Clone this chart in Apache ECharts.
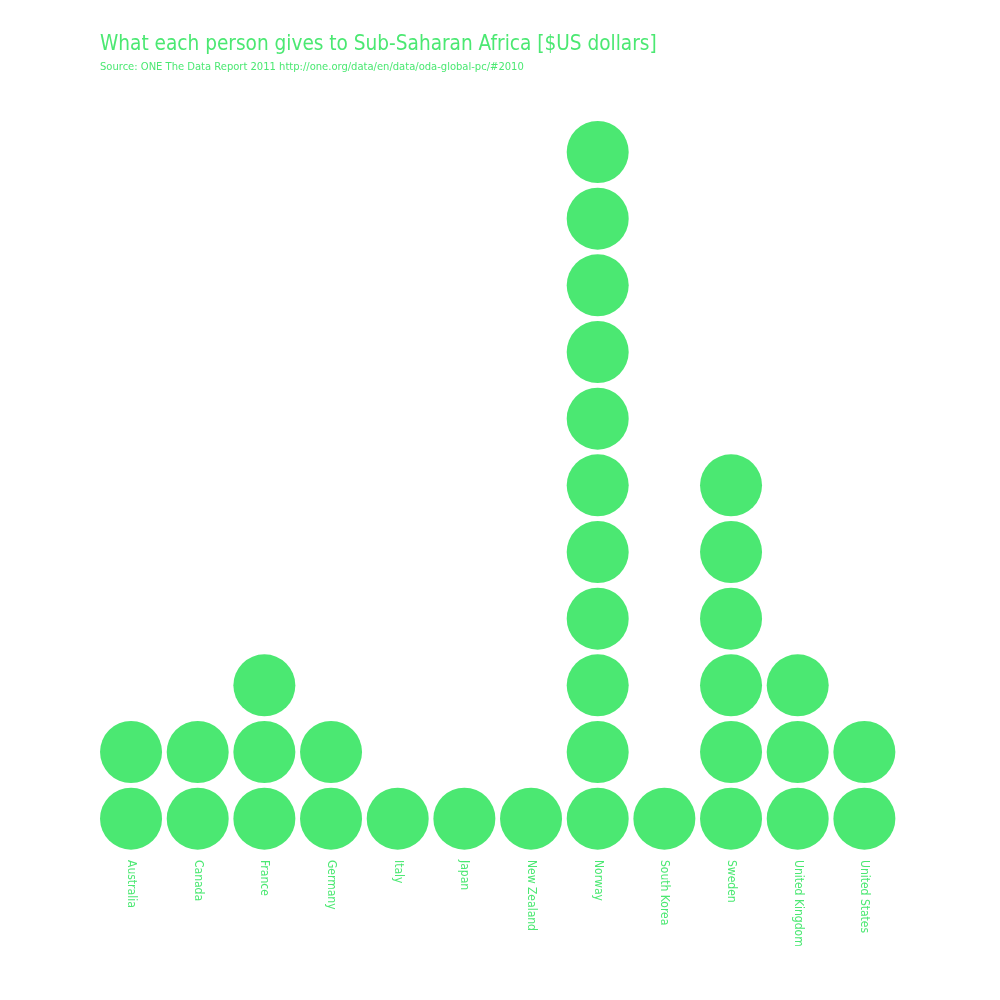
<!DOCTYPE html>
<html><head><meta charset="utf-8">
<script src="https://cdn.jsdelivr.net/npm/echarts@6/dist/echarts.min.js"></script>
<style>html,body{margin:0;padding:0;background:#fff}#c{width:1000px;height:1000px}</style>
</head><body><div id="c"></div>
<script>
const countries = ["Australia","Canada","France","Germany","Italy","Japan","New Zealand","Norway","South Korea","Sweden","United Kingdom","United States"];
const circles = [2,2,3,2,1,1,1,11,1,6,3,2];
const titleText = "What each person gives to Sub-Saharan Africa [$US dollars]";
const sourceText = "Source: ONE The Data Report 2011 http://one.org/data/en/data/oda-global-pc/#2010";

const GREEN = "#4be872";
const FONT = "'Liberation Sans Narrow','DejaVu Sans Condensed','Roboto',sans-serif";

const points = [];
countries.forEach((c, i) => {
  for (let k = 0; k < circles[i]; k++) points.push([c, k + 0.5]);
});

const chart = echarts.init(document.getElementById('c'), null, {renderer: 'canvas'});
chart.setOption({
  backgroundColor: '#fff',
  animation: false,
  title: [
    {text: titleText, left: 95, top: 29, textStyle: {color: GREEN, fontFamily: FONT, fontSize: 20.6, fontWeight: 'normal'}},
    {text: sourceText, left: 95, top: 57, textStyle: {color: GREEN, fontFamily: FONT, fontSize: 11.1, fontWeight: 'normal'}}
  ],
  grid: {left: 97.7, width: 800, top: 52, height: 800, containLabel: false},
  xAxis: {
    type: 'category', data: countries,
    axisLine: {show: false}, axisTick: {show: false}, splitLine: {show: false},
    axisLabel: {rotate: -90, color: GREEN, fontFamily: FONT, fontSize: 12, margin: 8, interval: 0}
  },
  yAxis: {type: 'value', min: 0, max: 12, show: false},
  series: [{
    type: 'scatter', data: points, symbol: 'circle', symbolSize: 62,
    itemStyle: {color: GREEN, opacity: 1}
  }]
});
</script></body></html>
